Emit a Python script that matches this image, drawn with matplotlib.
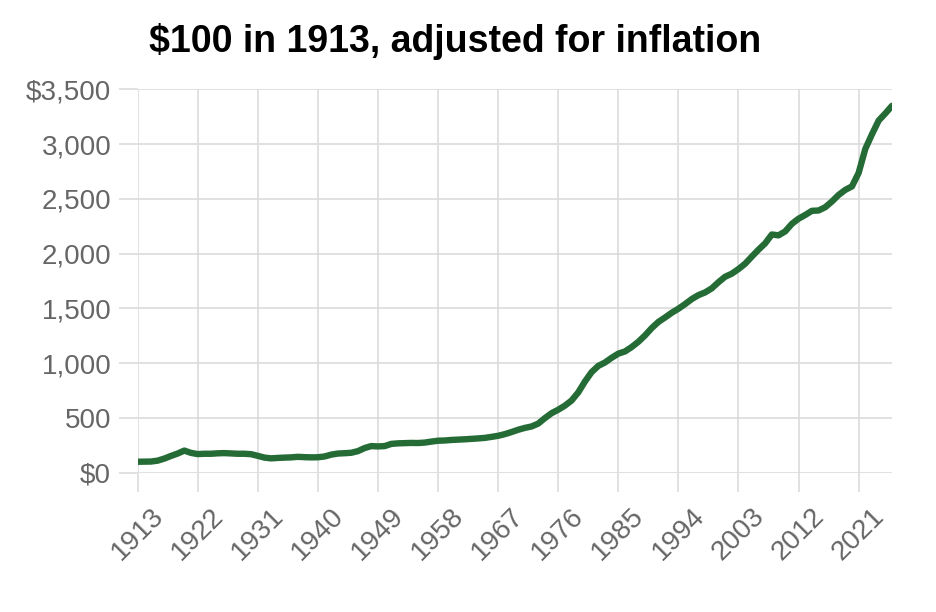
import matplotlib.pyplot as plt
import matplotlib.ticker as mticker

years = list(range(1913, 2027))
values = [
    100, 101, 102, 110, 129, 153, 175, 202, 181, 170,   # 1913-1922
    173, 173, 177, 179, 176, 173, 173, 169, 154, 138,   # 1923-1932
    131, 135, 138, 140, 145, 142, 140, 141, 148, 165,   # 1933-1942
    175, 178, 182, 197, 225, 243, 240, 243, 263, 268,   # 1943-1952
    270, 272, 271, 275, 284, 292, 294, 299, 302, 305,   # 1953-1962
    309, 313, 318, 327, 337, 352, 371, 392, 409, 422,   # 1963-1972
    448, 498, 543, 575, 612, 659, 733, 832, 918, 975,   # 1973-1982
    1006, 1049, 1087, 1107, 1147, 1195, 1253, 1320, 1376, 1417,  # 1983-1992
    1460, 1497, 1539, 1585, 1621, 1646, 1683, 1739, 1789, 1817,  # 1993-2002
    1859, 1908, 1973, 2036, 2094, 2175, 2167, 2203, 2272, 2319,  # 2003-2012
    2353, 2391, 2394, 2424, 2476, 2536, 2582, 2614, 2737, 2956,  # 2013-2022
    3090, 3215, 3280, 3350,                                      # 2023-2026
]
xtick_years = list(range(1913, 2027, 9))

plt.rcParams['font.family'] = ['Liberation Sans', 'DejaVu Sans']

fig = plt.figure(figsize=(9.36, 6.12), dpi=100)
ax = fig.add_axes([0.147, 0.2276, 0.806, 0.6264])

ax.plot(years, values, color='#256b35', linewidth=4.6,
        solid_joinstyle='round', solid_capstyle='round', zorder=3)

ax.set_xlim(1913, 2026)
ax.set_ylim(0, 3500)
ax.set_xticks(xtick_years)
ax.set_yticks(range(0, 3501, 500))
ax.yaxis.set_major_formatter(mticker.FuncFormatter(
    lambda v, p: '${:,.0f}'.format(v) if v in (0, 3500) else '{:,.0f}'.format(v)))

grid_col = '#dcdcdc'
ax.grid(True, color=grid_col, linewidth=1.2)
ax.set_axisbelow(True)
for s in ax.spines.values():
    s.set_visible(False)
ax.tick_params(axis='both', length=14, width=1.2, color=grid_col,
               labelsize=20, labelcolor='#666666')
ax.tick_params(axis='y', pad=5)
ax.tick_params(axis='x', pad=8)
for lab in ax.get_xticklabels():
    lab.set_rotation(45)
    lab.set_ha('center')

fig.text(0.486, 0.932, '$100 in 1913, adjusted for inflation',
         ha='center', va='center', fontsize=27, fontweight='bold', color='black')

fig.savefig('out.png', dpi=100)
